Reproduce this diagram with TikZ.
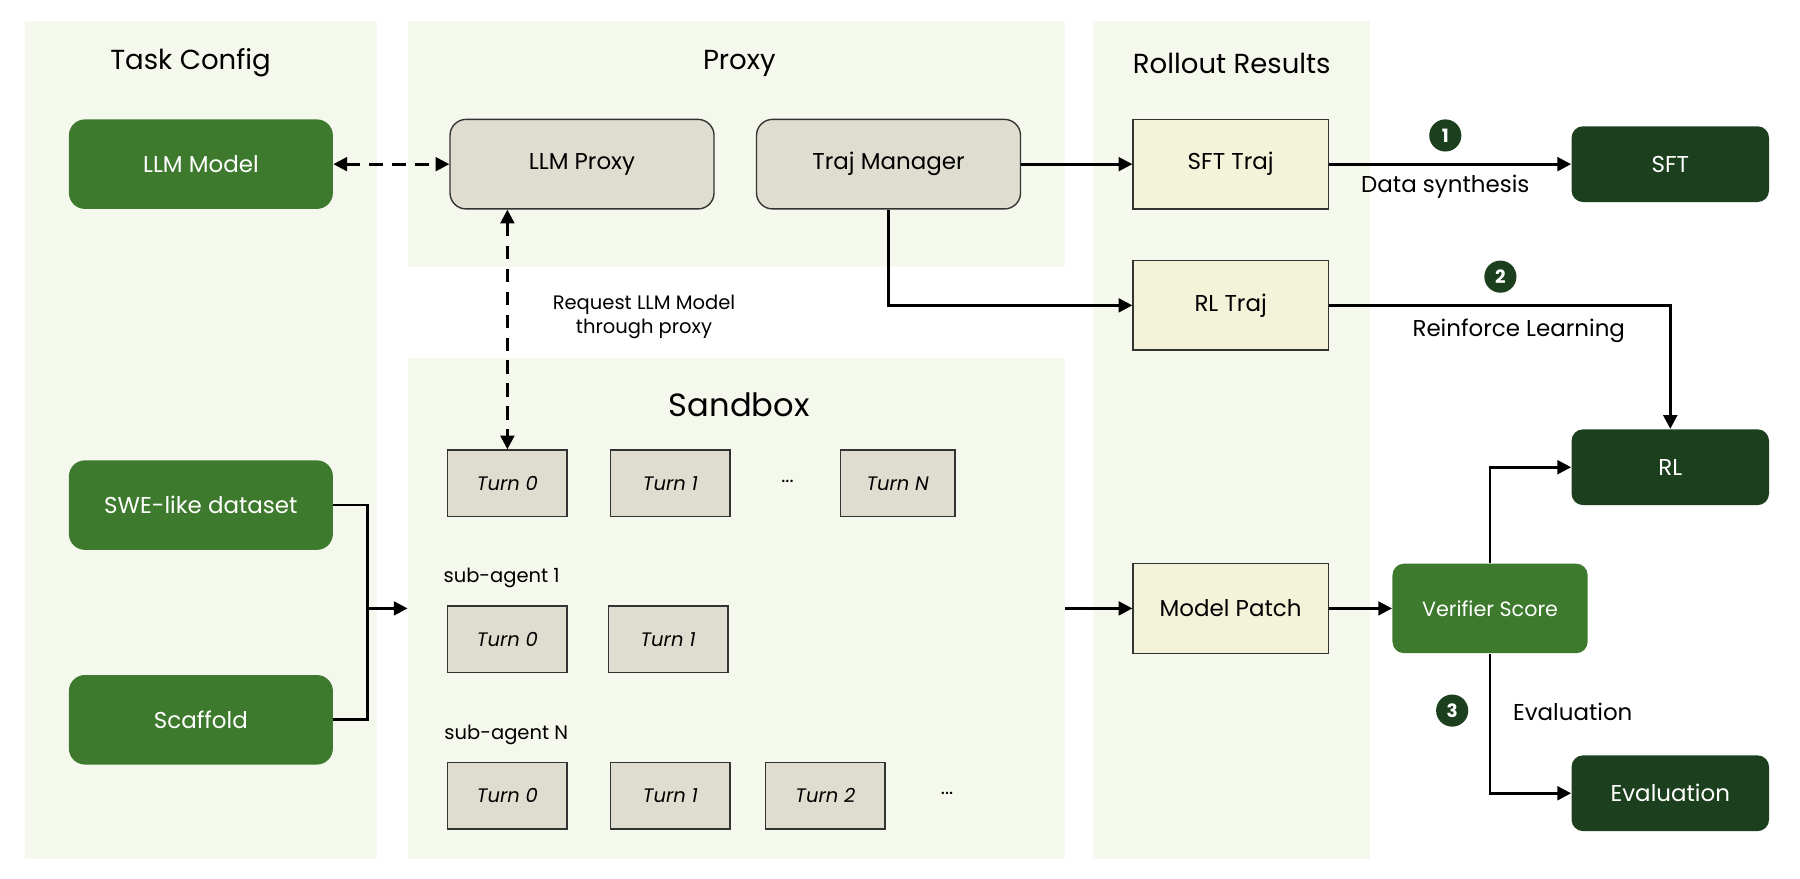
\documentclass[tikz,border=0pt]{standalone}
\usepackage{fontspec}
\setmainfont{Poppins}
\usetikzlibrary{arrows.meta}
\definecolor{panel}{HTML}{F5F8EC}
\definecolor{mg}{HTML}{3E7A2E}
\definecolor{dg}{HTML}{1C3F1E}
\definecolor{gbox}{HTML}{DFDDCF}
\definecolor{ybox}{HTML}{F3F3DA}
\begin{document}
\begin{tikzpicture}[x=0.5pt,y=-0.5pt,
 panel/.style={fill=panel,draw=none},
 green/.style={fill=mg,draw=none,rounded corners=7pt,text=white,font=\fontsize{10}{12}\selectfont},
 dark/.style={fill=dg,draw=none,rounded corners=5pt,text=white,font=\fontsize{10}{12}\selectfont},
 gray/.style={fill=gbox,draw=black!80,line width=0.6pt,rounded corners=7pt,font=\fontsize{10}{12}\selectfont},
 yb/.style={fill=ybox,draw=black!80,line width=0.6pt,font=\fontsize{10}{12}\selectfont},
 turn/.style={fill=gbox,draw=black!80,line width=0.6pt,font=\itshape\fontsize{8.5}{10}\selectfont},
 title/.style={font=\fontsize{12}{14}\selectfont},
 lab/.style={font=\fontsize{8.5}{10.5}\selectfont},
 arr/.style={-{Triangle[length=6pt,width=6pt]},line width=1.2pt},
 darr/.style={{Triangle[length=6pt,width=6pt]}-{Triangle[length=6pt,width=6pt]},line width=1.2pt,dash pattern=on 6pt off 4pt},
 num/.style={circle,fill=dg,text=white,inner sep=0pt,minimum size=14pt,font=\bfseries\fontsize{8}{9}\selectfont}]
\fill[white] (0,0) rectangle (1568,765);
% panels
\path[panel] (22,18) rectangle (328,748);
\path[panel] (355,18) rectangle (928,233);
\path[panel] (355,312) rectangle (928,748);
\path[panel] (952,18) rectangle (1193,748);
\node[title] (t1) at (166,55) {Task Config};
\node[title] (t2) at (644,55) {Proxy};
\node[title] (t3) at (1073,55) {Rollout Results};
\node[font=\fontsize{14}{16}\selectfont] (t4) at (644,353) {Sandbox};
\coordinate (sbL) at (355,530);
\coordinate (sbR) at (928,530);
% task config
\node[green,minimum width=115pt,minimum height=39pt] (llm) at (175,143) {LLM Model};
\node[green,minimum width=115pt,minimum height=39pt] (swe) at (175,440) {SWE-like dataset};
\node[green,minimum width=115pt,minimum height=39pt] (sca) at (175,627) {Scaffold};
% proxy
\node[gray,minimum width=115pt,minimum height=39pt] (lp) at (507,143) {LLM Proxy};
\node[gray,minimum width=115pt,minimum height=39pt] (tm) at (774,143) {Traj Manager};
% rollout
\node[yb,minimum width=85pt,minimum height=39pt] (sftt) at (1072,143) {SFT Traj};
\node[yb,minimum width=85pt,minimum height=39pt] (rlt) at (1072,266) {RL Traj};
\node[yb,minimum width=85pt,minimum height=39pt] (mp) at (1072,530) {Model Patch};
% right
\node[dark,minimum width=86pt,minimum height=33pt] (sft) at (1455,143) {SFT};
\node[dark,minimum width=86pt,minimum height=33pt] (rl) at (1455,407) {RL};
\node[dark,minimum width=86pt,minimum height=33pt] (ev) at (1455,691) {Evaluation};
\node[green,rounded corners=5pt,minimum width=85pt,minimum height=39pt,font=\fontsize{9}{11}\selectfont] (vs) at (1298,530) {Verifier Score};
% turns
\node[turn,minimum width=52pt,minimum height=29pt] (a0) at (442,421) {Turn 0};
\node[turn,minimum width=52pt,minimum height=29pt] (a1) at (584,421) {Turn 1};
\node[lab] (ad) at (686,419) {...};
\node[turn,minimum width=50pt,minimum height=29pt] (an) at (782,421) {Turn N};
\node[lab] (s1) at (437,503) {sub-agent 1};
\node[turn,minimum width=52pt,minimum height=29pt] (b0) at (442,557) {Turn 0};
\node[turn,minimum width=52pt,minimum height=29pt] (b1) at (582,557) {Turn 1};
\node[lab] (sn) at (441,640) {sub-agent N};
\node[turn,minimum width=52pt,minimum height=29pt] (c0) at (442,693) {Turn 0};
\node[turn,minimum width=52pt,minimum height=29pt] (c1) at (584,693) {Turn 1};
\node[turn,minimum width=52pt,minimum height=29pt] (c2) at (719,693) {Turn 2};
\node[lab] (cd) at (825,691) {...};
% connectors
\draw[darr] (llm) -- (lp);
\draw[darr] (lp.south -| a0) -- (a0);
\node[lab,align=center] (req) at (561,276) {Request LLM Model\\through proxy};
\draw[arr] (tm) -- (sftt);
\draw[arr] (tm.south) |- (rlt);
\draw[arr] (sftt) -- (sft);
\node[num] (n1) at (1259,118) {1};
\node[font=\fontsize{10}{12}\selectfont] (l1) at (1259,163) {Data synthesis};
\draw[arr] (rlt) -| (rl);
\node[num] (n2) at (1307,241) {2};
\node[font=\fontsize{10}{12}\selectfont] (l2) at (1323,288) {Reinforce Learning};
\draw[line width=1.2pt] (swe) -| (320,627) -- (sca);
\draw[arr] (320,530) -- (sbL);
\draw[arr] (sbR) -- (mp);
\draw[arr] (mp) -- (vs);
\draw[arr] (vs.north) |- (rl);
\draw[arr] (vs.south) |- (ev);
\node[num] (n3) at (1265,619) {3};
\node[font=\fontsize{10}{12}\selectfont] (l3) at (1370,620) {Evaluation};
\pgfresetboundingbox
\path[use as bounding box] (0,0) rectangle (1568,765);
\end{tikzpicture}
\end{document}
